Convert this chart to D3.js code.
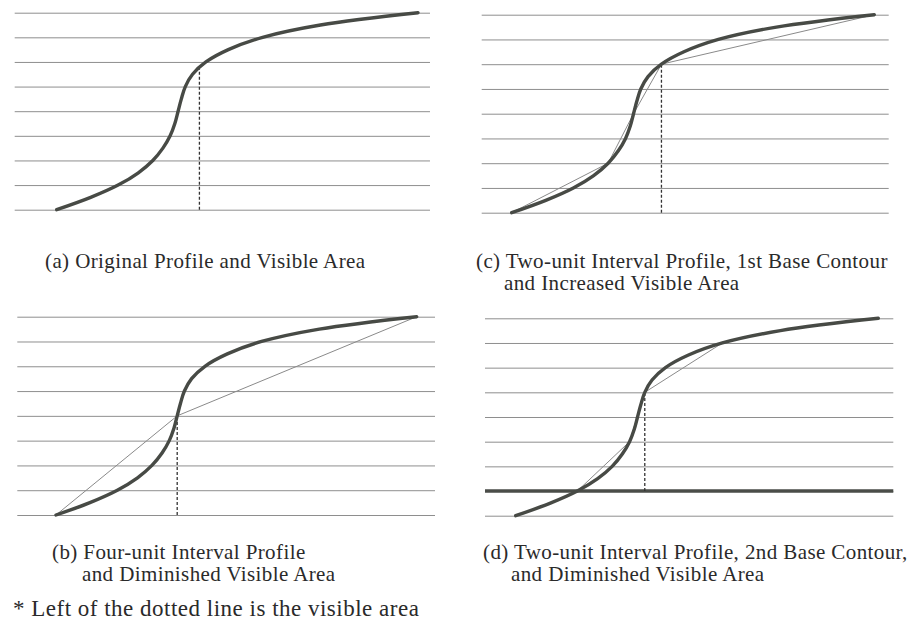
<!DOCTYPE html>
<html>
<head>
<meta charset="utf-8">
<script src="https://cdn.jsdelivr.net/npm/d3@7"></script>
<style>
  html, body { margin: 0; padding: 0; background: #fff; }
  svg { display: block; }
  text { font-family: "Liberation Serif", "Times New Roman", serif; fill: #2a2a2a; }
</style>
</head>
<body>
<svg id="chart" width="912" height="628"></svg>
<script>
// Contour levels (0 = lowest rule, 8 = highest rule)
const contourLevels = [0, 1, 2, 3, 4, 5, 6, 7, 8];

// Terrain profile: elevation (in contour units) and horizontal distance (0 = start, 100 = end)
const profileLevel = [0, 0.5, 1, 1.5, 2, 2.5, 3, 3.5, 4, 4.5, 5, 5.5, 6, 6.5, 7, 7.5, 8];
const profileDist  = [0, 9.4, 17.0, 22.6, 26.6, 29.4, 31.4, 32.7, 33.6, 34.5, 35.6, 37.6, 41.3, 47.5, 57.0, 73.0, 100];

// Levels sampled by each generalised profile
const chordLevelsA = [];
const chordLevelsB = [0, 4, 8];
const chordLevelsC = [0, 2, 4, 6, 8];
const chordLevelsD = [1, 3, 5, 7];

// Edge of the visible area: [distance, elevation reached by the dotted line]
const visibleA = [39.5, 5.75];
const visibleB = [33.6, 4];
const visibleC = [41.3, 6];
const visibleD = [35.6, 5];

// Base contour level used by each panel
const baseLevelA = 0, baseLevelB = 0, baseLevelC = 0, baseLevelD = 1;

// Captions
const captionA = ["(a) Original Profile and Visible Area"];
const captionB = ["(b) Four-unit Interval Profile", "and Diminished Visible Area"];
const captionC = ["(c) Two-unit Interval Profile, 1st Base Contour", "and Increased Visible Area"];
const captionD = ["(d) Two-unit Interval Profile, 2nd Base Contour,", "and Diminished Visible Area"];
const footnote = "* Left of the dotted line is the visible area";

const profile = profileLevel.map((lv, i) => ({ d: profileDist[i], lv }));
const distAt = lv => profileDist[profileLevel.indexOf(lv)];

const panels = [
  { chords: chordLevelsA, vis: visibleA, base: baseLevelA, drawBase: false, caption: captionA,
    gx0: 14.7, gx1: 430, cx0: 56.7, cx1: 418, yb: 209.7, yt: 12.7, tx: 45, tx2: 45, ty: 268 },
  { chords: chordLevelsC, vis: visibleC, base: baseLevelC, drawBase: false, caption: captionC,
    gx0: 481.7, gx1: 888.7, cx0: 511.7, cx1: 874.3, yb: 212.7, yt: 14.7, tx: 476, tx2: 504, ty: 268 },
  { chords: chordLevelsB, vis: visibleB, base: baseLevelB, drawBase: false, caption: captionB,
    gx0: 17.3, gx1: 435, cx0: 56, cx1: 416.7, yb: 515, yt: 316.7, tx: 52, tx2: 82, ty: 559 },
  { chords: chordLevelsD, vis: visibleD, base: baseLevelD, drawBase: true, caption: captionD,
    gx0: 485, gx1: 893.3, cx0: 515.7, cx1: 878.3, yb: 515.7, yt: 318.3, tx: 483, tx2: 511, ty: 559 }
];

const svg = d3.select("#chart");

panels.forEach(p => {
  const x = d3.scaleLinear().domain([0, 100]).range([p.cx0, p.cx1]);
  const y = d3.scaleLinear().domain([0, 8]).range([p.yb, p.yt]);
  const g = svg.append("g");

  // contour rules
  const grid = d3.axisLeft(y)
    .tickValues(contourLevels)
    .tickSize(-(p.gx1 - p.gx0))
    .tickFormat("");
  g.append("g")
    .attr("transform", `translate(${p.gx0},0)`)
    .call(grid)
    .call(s => s.select(".domain").remove())
    .call(s => s.selectAll(".tick line").attr("stroke", "#8e8e8e").attr("stroke-width", 1));

  // base contour
  if (p.drawBase) {
    g.append("line")
      .attr("x1", p.gx0).attr("x2", p.gx1)
      .attr("y1", y(p.base)).attr("y2", y(p.base))
      .attr("stroke", "#4a4d48").attr("stroke-width", 3.6);
  }

  // generalised profile (straight chords between sampled contours)
  if (p.chords.length) {
    const chordLine = d3.line().x(lv => x(distAt(lv))).y(lv => y(lv));
    g.append("path")
      .attr("d", chordLine(p.chords))
      .attr("fill", "none")
      .attr("stroke", "#8a8a8a")
      .attr("stroke-width", 1);
  }

  // dotted line bounding the visible area
  g.append("line")
    .attr("x1", x(p.vis[0])).attr("x2", x(p.vis[0]))
    .attr("y1", y(p.base)).attr("y2", y(p.vis[1]))
    .attr("stroke", "#333").attr("stroke-width", 1.3)
    .attr("stroke-dasharray", "3,2");

  // original profile
  const curve = d3.line()
    .x(d => x(d.d)).y(d => y(d.lv))
    .curve(d3.curveCatmullRom.alpha(0.5));
  g.append("path")
    .attr("d", curve(profile))
    .attr("fill", "none")
    .attr("stroke", "#474a45")
    .attr("stroke-width", 3.4)
    .attr("stroke-linecap", "round");

  // caption
  p.caption.forEach((t, i) => {
    svg.append("text")
      .attr("x", i === 0 ? p.tx : p.tx2)
      .attr("y", p.ty + i * 22)
      .attr("font-size", 21)
      .attr("letter-spacing", 0.4)
      .text(t);
  });
});

svg.append("text")
  .attr("x", 13).attr("y", 616)
  .attr("font-size", 23)
  .attr("letter-spacing", 0.5)
  .text(footnote);
</script>
</body>
</html>
